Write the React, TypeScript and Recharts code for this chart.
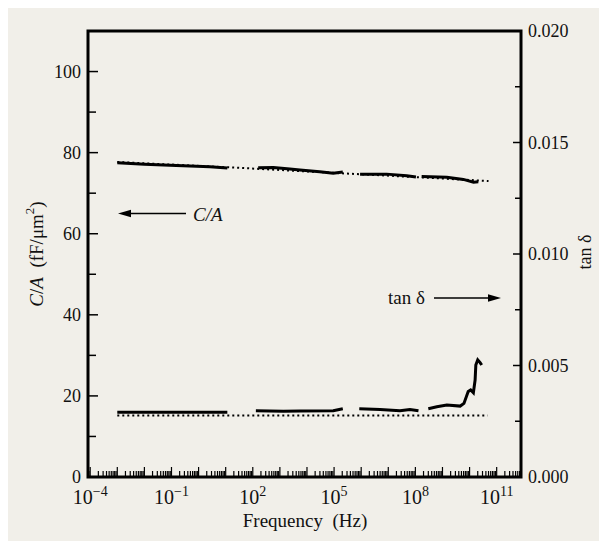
import React from 'react';
import { LineChart, Line, XAxis, YAxis } from 'recharts';

// C/A measured segments (frequency in Hz, value in fF/um^2)
const caSeg1 = [
  { f: 1e-3, v: 77.5 },
  { f: 1e-2, v: 77.15 },
  { f: 0.15, v: 76.8 },
  { f: 2.6, v: 76.5 },
  { f: 11.5, v: 76.2 },
];
const caSeg2 = [
  { f: 158, v: 76.3 },
  { f: 575, v: 76.35 },
  { f: 2340, v: 75.95 },
  { f: 5500, v: 75.7 },
  { f: 29500, v: 75.3 },
  { f: 93000, v: 74.9 },
  { f: 2.1e5, v: 75.2 },
];
const caSeg3 = [
  { f: 9.1e5, v: 74.7 },
  { f: 8.7e6, v: 74.7 },
  { f: 4.8e7, v: 74.3 },
  { f: 1.05e8, v: 74.0 },
];
const caSeg4 = [
  { f: 1.7e8, v: 74.1 },
  { f: 1.45e9, v: 73.9 },
  { f: 5.9e9, v: 73.4 },
  { f: 1.4e10, v: 72.7 },
  { f: 2.1e10, v: 72.8 },
];
// dotted fit through C/A
const caFit = [
  { f: 1e-3, v: 77.7 },
  { f: 44, v: 76.2 },
  { f: 3.9e5, v: 74.8 },
  { f: 1.6e8, v: 73.9 },
  { f: 5e10, v: 73.0 },
];

// tan delta measured segments
const tanSeg1 = [
  { f: 1e-3, v: 0.0029 },
  { f: 11.5, v: 0.0029 },
];
const tanSeg2 = [
  { f: 130, v: 0.00297 },
  { f: 1350, v: 0.00295 },
  { f: 5500, v: 0.00296 },
  { f: 93000, v: 0.00297 },
  { f: 2.1e5, v: 0.00306 },
];
const tanSeg3 = [
  { f: 8.5e5, v: 0.00306 },
  { f: 5e6, v: 0.00303 },
  { f: 2.7e7, v: 0.00297 },
  { f: 6.3e7, v: 0.00303 },
  { f: 1.3e8, v: 0.00297 },
];
const tanSeg4 = [
  { f: 3e8, v: 0.00306 },
  { f: 6.2e8, v: 0.00315 },
  { f: 1.45e9, v: 0.00323 },
  { f: 4.5e9, v: 0.00318 },
  { f: 6.2e9, v: 0.0033 },
  { f: 8.9e9, v: 0.00383 },
  { f: 1.1e10, v: 0.0039 },
  { f: 1.38e10, v: 0.00378 },
  { f: 1.6e10, v: 0.00435 },
  { f: 1.7e10, v: 0.00502 },
  { f: 2.0e10, v: 0.00525 },
  { f: 2.45e10, v: 0.00513 },
  { f: 2.8e10, v: 0.00502 },
];
const tanFit = [
  { f: 1e-3, v: 0.00276 },
  { f: 4.6e10, v: 0.00276 },
];

const caSegments = [caSeg1, caSeg2, caSeg3, caSeg4];
const tanSegments = [tanSeg1, tanSeg2, tanSeg3, tanSeg4];

// axes
const xDomain = [8.3e-5, 7.9e11];
const decades = [-5, -4, -3, -2, -1, 0, 1, 2, 3, 4, 5, 6, 7, 8, 9, 10, 11];
const labeledDecades = [-4, -1, 2, 5, 8, 11];
const leftTicks = [0, 10, 20, 30, 40, 50, 60, 70, 80, 90, 100];
const leftLabels = [0, 20, 40, 60, 80, 100];
const rightTicks = [0, 0.0025, 0.005, 0.0075, 0.01, 0.0125, 0.015, 0.0175, 0.02];
const rightLabels = [0, 0.005, 0.01, 0.015, 0.02];

// plot box
const PL = 88;
const PR = 521;
const PT = 31;
const PB = 477;
const FONT = '"Liberation Serif", "Times New Roman", serif';

const xTicks: number[] = [];
decades.forEach((d) => {
  for (let m = 1; m <= 9; m++) {
    const v = m * Math.pow(10, d);
    if (v >= xDomain[0] && v <= xDomain[1]) xTicks.push(v);
  }
});

const XTick = (props: any) => {
  const { payload } = props;
  const x = payload.coordinate;
  const lg = Math.log10(payload.value);
  const isDecade = Math.abs(lg - Math.round(lg)) < 1e-6;
  const exp = Math.round(lg);
  return (
    <g>
      <line x1={x} x2={x} y1={PB} y2={PB - (isDecade ? 10 : 6)} stroke="#000" strokeWidth={1.2} />
      {isDecade && labeledDecades.includes(exp) && (
        <text x={x} y={504} textAnchor="middle" fontFamily={FONT} fontSize={20} fill="#111">
          10
          <tspan dy={-8} fontSize={14}>
            {exp < 0 ? '\u2212' + Math.abs(exp) : exp}
          </tspan>
        </text>
      )}
    </g>
  );
};

const LeftTick = (props: any) => {
  const { payload } = props;
  const y = payload.coordinate;
  const major = leftLabels.includes(payload.value);
  return (
    <g>
      <line x1={PL} x2={PL + (major ? 10 : 8)} y1={y} y2={y} stroke="#000" strokeWidth={1.5} />
      {major && (
        <text x={81} y={y} textAnchor="end" dominantBaseline="central" fontFamily={FONT} fontSize={18} fill="#111">
          {payload.value}
        </text>
      )}
    </g>
  );
};

const RightTick = (props: any) => {
  const { payload } = props;
  const y = payload.coordinate;
  const major = rightLabels.some((r) => Math.abs(r - payload.value) < 1e-9);
  return (
    <g>
      <line x1={PR - (major ? 8 : 6)} x2={PR} y1={y} y2={y} stroke="#000" strokeWidth={1.5} />
      {major && (
        <text x={528} y={y} textAnchor="start" dominantBaseline="central" fontFamily={FONT} fontSize={18} fill="#111">
          {payload.value.toFixed(3)}
        </text>
      )}
    </g>
  );
};

export default function App() {
  return (
    <div style={{ position: 'relative', width: 607, height: 549, margin: -8, background: '#fff' }}>
      <div style={{ position: 'absolute', left: 6, top: 4, width: 596, height: 540, background: '#f1efe9' }} />
      <div style={{ position: 'absolute', left: 0, top: 0 }}>
        <LineChart width={607} height={549} margin={{ top: PT, right: 0, bottom: 0, left: 0 }}>
          <XAxis
            dataKey="f"
            type="number"
            scale="log"
            domain={xDomain}
            allowDataOverflow
            ticks={xTicks}
            interval={0}
            tick={<XTick />}
            tickLine={false}
            axisLine={false}
            height={549 - PB}
          />
          <YAxis
            yAxisId="left"
            domain={[0, 110]}
            ticks={leftTicks}
            interval={0}
            tick={<LeftTick />}
            tickLine={false}
            axisLine={false}
            width={PL}
          />
          <YAxis
            yAxisId="right"
            orientation="right"
            domain={[0, 0.02]}
            ticks={rightTicks}
            interval={0}
            tick={<RightTick />}
            tickLine={false}
            axisLine={false}
            width={607 - PR}
          />
          <Line
            yAxisId="left"
            data={caFit}
            dataKey="v"
            stroke="#000"
            strokeWidth={2}
            strokeDasharray="2 3"
            dot={false}
            isAnimationActive={false}
          />
          <Line
            yAxisId="right"
            data={tanFit}
            dataKey="v"
            stroke="#000"
            strokeWidth={2}
            strokeDasharray="2 3"
            dot={false}
            isAnimationActive={false}
          />
          {caSegments.map((seg, i) => (
            <Line
              key={'ca' + i}
              yAxisId="left"
              data={seg}
              dataKey="v"
              stroke="#000"
              strokeWidth={3}
              dot={false}
              isAnimationActive={false}
            />
          ))}
          {tanSegments.map((seg, i) => (
            <Line
              key={'tan' + i}
              yAxisId="right"
              data={seg}
              dataKey="v"
              stroke="#000"
              strokeWidth={3}
              dot={false}
              isAnimationActive={false}
            />
          ))}
        </LineChart>
      </div>
      <svg width={607} height={549} style={{ position: 'absolute', left: 0, top: 0, pointerEvents: 'none' }}>
        <rect x={PL} y={PT} width={PR - PL} height={PB - PT} fill="none" stroke="#000" strokeWidth={3} />
        <text x={305} y={527} textAnchor="middle" fontFamily={FONT} fontSize={19} fill="#111">
          {'Frequency\u00a0\u00a0(Hz)'}
        </text>
        <text
          transform="translate(36,254) rotate(-90)"
          textAnchor="middle"
          dominantBaseline="central"
          fontFamily={FONT}
          fontSize={19}
          fill="#111"
        >
          <tspan fontStyle="italic">C</tspan>/<tspan fontStyle="italic">A</tspan>
          {'\u00a0\u00a0(fF/\u03bcm'}
          <tspan dy={-7} fontSize={13}>2</tspan>
          <tspan dy={7}>)</tspan>
        </text>
        <text
          transform="translate(585,252) rotate(-90)"
          textAnchor="middle"
          dominantBaseline="central"
          fontFamily={FONT}
          fontSize={18}
          fill="#111"
        >
          {'tan \u03b4'}
        </text>
        <text x={193} y={221} fontFamily={FONT} fontSize={19} fontStyle="italic" fill="#111">
          C/A
        </text>
        <line x1={186} x2={128} y1={213.5} y2={213.5} stroke="#000" strokeWidth={1.3} />
        <polygon points="118,213.5 131,209.8 131,217.2" fill="#000" />
        <text x={388} y={304} fontFamily={FONT} fontSize={19} fill="#111">
          {'tan \u03b4'}
        </text>
        <line x1={434} x2={490} y1={298} y2={298} stroke="#000" strokeWidth={1.3} />
        <polygon points="501,298 488,294.3 488,301.7" fill="#000" />
      </svg>
    </div>
  );
}
